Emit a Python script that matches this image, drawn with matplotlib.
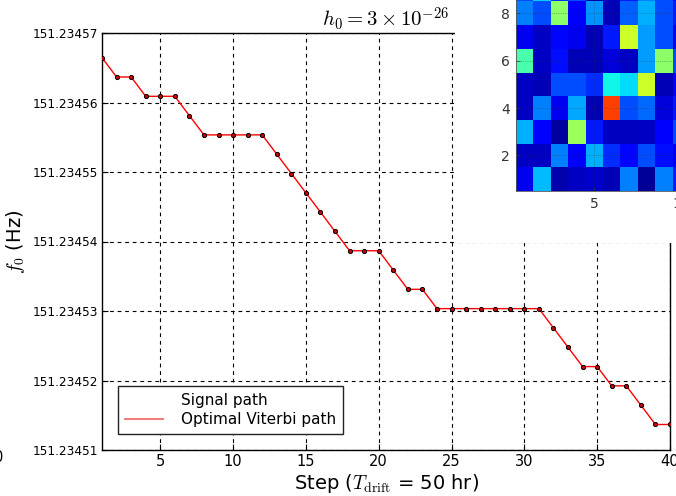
import matplotlib
matplotlib.use('Agg')
import matplotlib.pyplot as plt
import numpy as np
from matplotlib.lines import Line2D
from matplotlib.patches import Rectangle

plt.rcParams['mathtext.fontset'] = 'cm'
plt.rcParams['font.family'] = ['DejaVu Sans']

# ---------------- data ----------------
steps = list(range(1, 41))
signal_path = [
    151.23456645, 151.23456367, 151.23456367, 151.23456089, 151.23456089,
    151.23456089, 151.23455811, 151.23455534, 151.23455534, 151.23455534,
    151.23455534, 151.23455534, 151.23455256, 151.23454978, 151.23454700,
    151.23454423, 151.23454145, 151.23453867, 151.23453867, 151.23453867,
    151.23453589, 151.23453312, 151.23453312, 151.23453034, 151.23453034,
    151.23453034, 151.23453034, 151.23453034, 151.23453034, 151.23453034,
    151.23453034, 151.23452756, 151.23452478, 151.23452200, 151.23452200,
    151.23451923, 151.23451923, 151.23451645, 151.23451367, 151.23451367,
]
viterbi_path = list(signal_path)

x_ticks = [5, 10, 15, 20, 25, 30, 35, 40]
f_ticks = [151.23451, 151.23452, 151.23453, 151.23454, 151.23455, 151.23456, 151.23457]
f_tick_labels = ['151.23451', '151.23452', '151.23453', '151.23454',
                 '151.23455', '151.23456', '151.23457']

# inset heatmap (rows from bottom = 1 .. 10, columns 1 .. 10)
heat = [
    [0.10, 0.31, 0.04, 0.06, 0.07, 0.05, 0.25, 0.02, 0.25, 0.15],
    [0.06, 0.06, 0.25, 0.11, 0.30, 0.17, 0.13, 0.20, 0.14, 0.10],
    [0.30, 0.12, 0.03, 0.54, 0.15, 0.06, 0.06, 0.06, 0.11, 0.20],
    [0.06, 0.25, 0.10, 0.29, 0.05, 0.84, 0.20, 0.23, 0.08, 0.15],
    [0.06, 0.05, 0.20, 0.20, 0.17, 0.37, 0.34, 0.60, 0.05, 0.12],
    [0.44, 0.06, 0.14, 0.05, 0.05, 0.08, 0.06, 0.28, 0.52, 0.20],
    [0.10, 0.06, 0.13, 0.10, 0.05, 0.15, 0.60, 0.28, 0.20, 0.10],
    [0.25, 0.20, 0.52, 0.11, 0.27, 0.05, 0.22, 0.30, 0.20, 0.15],
    [0.20, 0.33, 0.17, 0.20, 0.05, 0.06, 0.15, 0.25, 0.20, 0.12],
    [0.10, 0.15, 0.08, 0.20, 0.12, 0.30, 0.10, 0.18, 0.08, 0.14],
]
heat_xticks = [5, 10]
heat_yticks = [2, 4, 6, 8]

# ---------------- figure ----------------
W, H = 676, 496
fig = plt.figure(figsize=(W / 100, H / 100), dpi=100)
fig.patch.set_facecolor('white')

L, R, T, B = 102, 670, 33, 450
ax = fig.add_axes([L / W, 1 - B / H, (R - L) / W, (B - T) / H])
ax.set_zorder(0)

ax.plot(steps, viterbi_path, '-', color='red', lw=1.0, zorder=3)
ax.plot(steps, signal_path, 'o', ls='none', ms=3.0, mfc='#cc0000', mec='black',
        mew=0.7, zorder=4)

ax.set_xlim(1, 40)
ax.set_ylim(151.23451, 151.23457)
ax.set_xticks(x_ticks)
ax.set_xticklabels([str(t) for t in x_ticks], fontsize=10.5)
ax.set_yticks(f_ticks)
ax.set_yticklabels(f_tick_labels, fontsize=8.7)
ax.tick_params(direction='in', length=4, width=0.8, pad=3)
ax.grid(True, color='black', linestyle=(0, (3.4, 3.4)), linewidth=0.8)
for s in ax.spines.values():
    s.set_linewidth(1.0)
    s.set_color('black')

ax.set_xlabel(r'Step ($T_{\rm drift}$ = 50 hr)', fontsize=14, labelpad=2)
ax.set_ylabel(r'$f_0$ (Hz)', fontsize=14, labelpad=4)
ax.set_title(r'$h_0 = 3 \times 10^{-26}$', fontsize=15, pad=4)

handles = [Line2D([], [], color='none', label='Signal path'),
           Line2D([], [], color='#f06060', lw=1.2, label='Optimal Viterbi path')]
leg = ax.legend(handles=handles, loc='lower left', bbox_to_anchor=(0.028, 0.038),
                fontsize=11, fancybox=False, framealpha=1, edgecolor='#222222',
                handlelength=2.5, borderpad=0.45, labelspacing=0.3,
                handletextpad=1.2, borderaxespad=0)
leg.get_frame().set_linewidth(1.0)

# white backdrop of the pasted inset picture
fig.add_artist(Rectangle((455 / W, 1 - 243 / H), 1 - 455 / W, 243 / H,
                         transform=fig.transFigure, facecolor='white',
                         edgecolor='none', zorder=1))

# inset heatmap
hx0, hw = 515.7, 174.0
hy_bottom, hh = 191.0, 237.0
axi = fig.add_axes([hx0 / W, 1 - hy_bottom / H, hw / W, hh / H])
axi.set_zorder(2)
axi.imshow(np.array(heat), origin='lower', cmap='jet', vmin=0, vmax=1,
           extent=[0.5, 10.5, 0.5, 10.5], aspect='auto', interpolation='nearest')
axi.set_xticks(heat_xticks)
axi.set_yticks(heat_yticks)
axi.tick_params(direction='in', length=3, width=0.5, labelsize=10,
                colors='#333333', pad=4)
axi.grid(True, color='#333333', linestyle=':', linewidth=0.6, alpha=0.5)
for s in axi.spines.values():
    s.set_linewidth(0.6)
    s.set_color('#555555')

# stray tick label of the neighbouring panel
fig.text(3.5 / W, 1 - 458 / H, '0', ha='right', va='center', fontsize=10.5)

fig.savefig('out.png', dpi=100)
